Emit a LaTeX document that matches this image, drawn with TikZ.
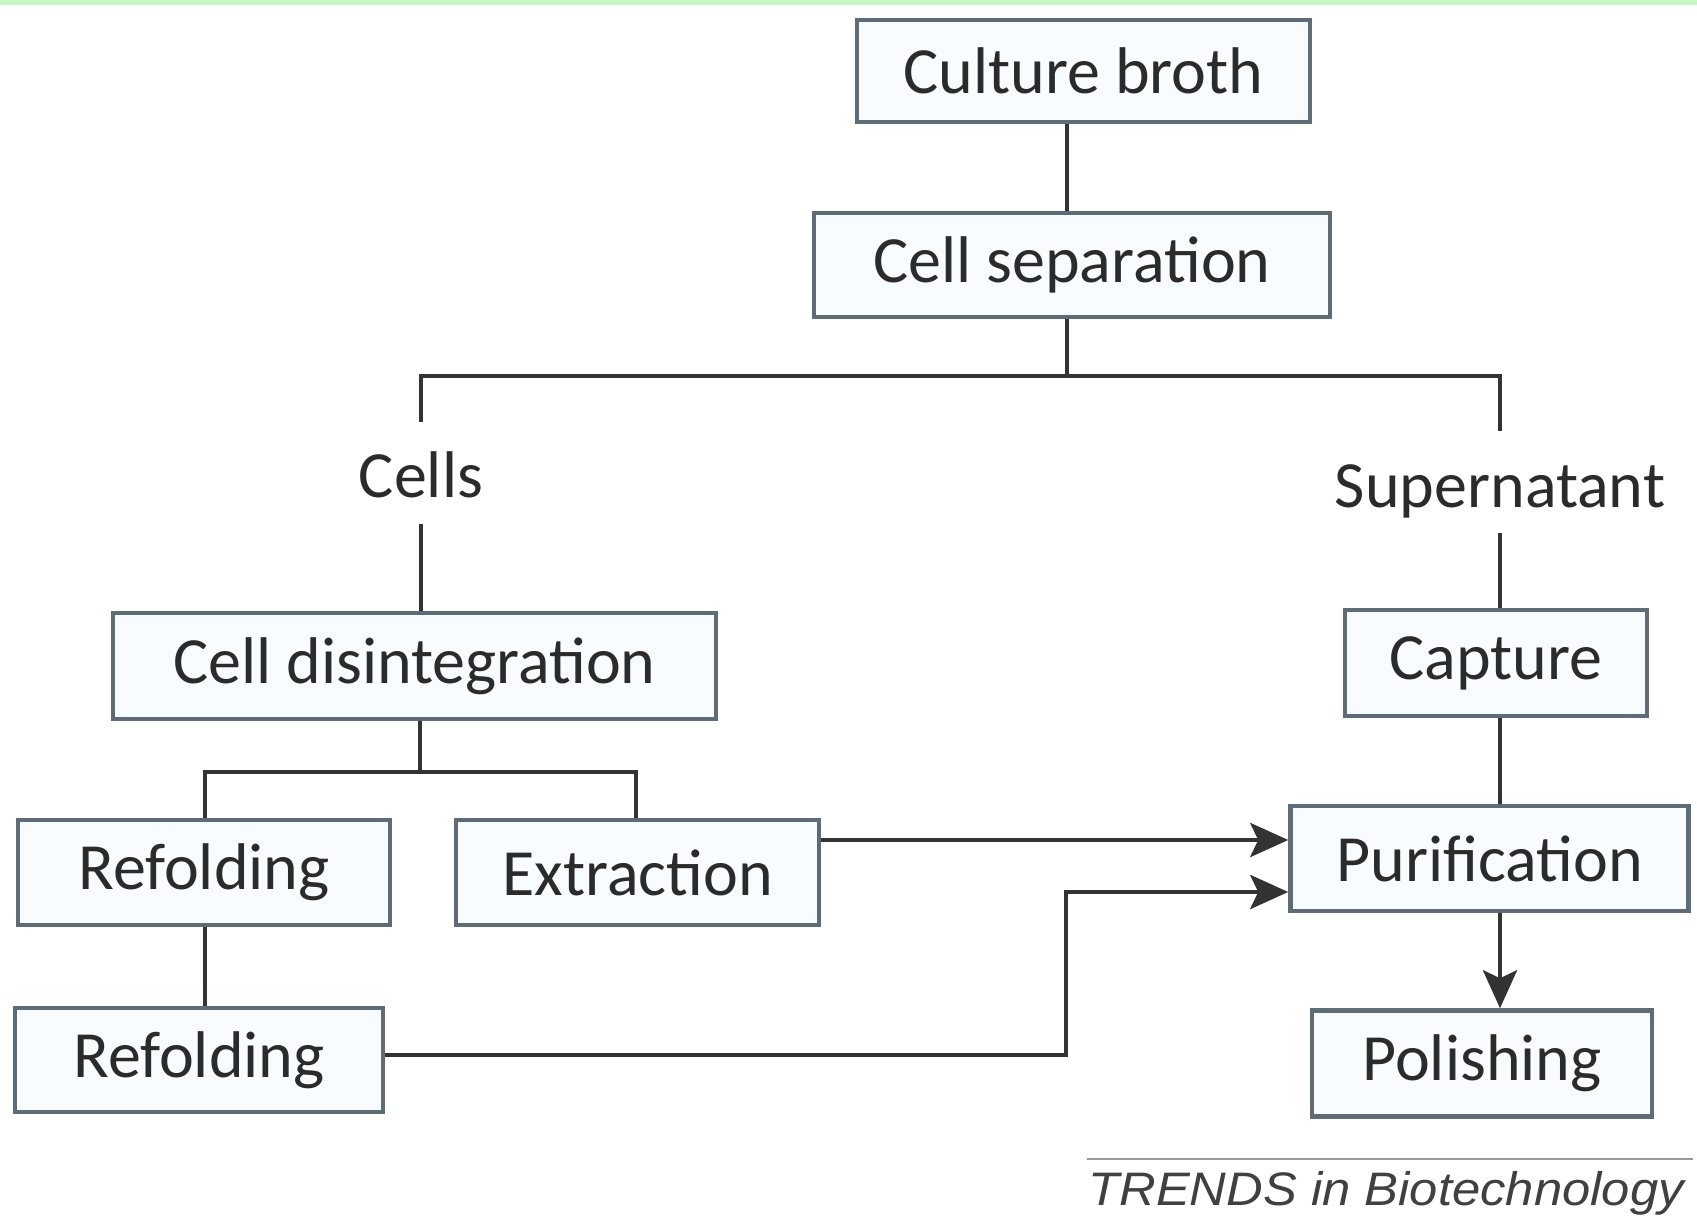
\documentclass[tikz,border=0pt]{standalone}
\usepackage{fontspec}
\setmainfont{Carlito}
\newfontfamily\trendsfont{Liberation Sans}
\usetikzlibrary{arrows.meta}
\definecolor{boxline}{HTML}{5F6B75}
\definecolor{boxfill}{HTML}{F9FCFE}
\definecolor{conn}{HTML}{333333}
\definecolor{txt}{HTML}{2B2B2B}
\definecolor{topbar}{HTML}{C8F7C8}
\tikzset{
  stepbox/.style={draw=boxline, fill=boxfill, line width=2.25pt, text=txt,
    font=\fontsize{33}{36}\selectfont, inner sep=0pt},
  lbl/.style={text=txt, font=\fontsize{33}{36}\selectfont, inner xsep=0pt,
    inner ysep=0pt, outer sep=0pt, text height=38pt, text depth=13pt},
  link/.style={draw=conn, line width=2.4pt},
  arr/.style={link, -{Stealth[length=19pt,width=17pt,inset=4pt]}}
}
\begin{document}
\begin{tikzpicture}[x=0.5pt,y=-0.5pt]
\fill[white] (0,0) rectangle (1697,1226);
\useasboundingbox (0,0) rectangle (1697,1226);
\fill[topbar] (0,0) rectangle (1697,5);

% boxes
\node[stepbox, minimum width=226.5pt, minimum height=51pt] (culture) at (1083.5,71) {Culture broth};
\node[stepbox, minimum width=258pt, minimum height=52pt] (sep) at (1072,265) {Cell separation};
\node[lbl] (cells) at (421,472.5) {Cells};
\node[lbl] (super) at (1500,482) {Supernatant};
\node[stepbox, minimum width=301.5pt, minimum height=53pt] (disint) at (414.5,666) {Cell disintegration};
\node[stepbox, minimum width=186pt, minimum height=52.5pt] (ref1) at (204,872.5) {Refolding};
\node[stepbox, minimum width=181.5pt, minimum height=52.5pt] (extr) at (637.5,872.5) {Extraction};
\node[stepbox, minimum width=184pt, minimum height=52pt] (ref2) at (199,1060) {Refolding};
\node[stepbox, minimum width=151pt, minimum height=53pt] (capt) at (1496,663) {Capture};
\node[stepbox, minimum width=199pt, minimum height=52.5pt] (purif) at (1489.5,858.5) {Purification};
\node[stepbox, minimum width=170pt, minimum height=53pt] (polish) at (1482,1063.5) {Polishing};

% junction coordinates
\coordinate (br0) at (1067,376);
\coordinate (br1) at (420,772);
\coordinate (ain1) at (1290,840);
\coordinate (ain2) at (1290,892);
\coordinate (rc) at (1066,1055);

% connectors
\draw[link] (culture.south -| br0) -- (sep.north -| br0);
\draw[link] (sep.south -| br0) -- (br0);
\draw[link] (cells.north) |- (br0) -| (super.north);
\draw[link] (cells.south) -- (cells.south |- disint.north);
\draw[link] (disint.south -| br1) -- (br1);
\draw[link] (ref1.north -| 205,0) |- (br1) -| (extr.north -| 636,0);
\draw[link] (ref1.south -| 205,0) -- (ref2.north -| 205,0);
\draw[link] (super.south) -- (super.south |- capt.north);
\draw[link] (capt.south -| super.south) -- (purif.north -| super.south);
\draw[arr] (purif.south -| super.south) -- (polish.north -| super.south);
\draw[arr] (extr.east |- ain1) -- (purif.west |- ain1);
\draw[arr] (ref2.east |- rc) -- (rc) |- (purif.west |- ain2);

% credit line
\draw[draw=black!40, line width=1pt] (1087,1159) -- (1693,1159);
\node[anchor=base west, inner sep=0pt, xscale=1.08, text=black!75,
  font=\trendsfont\itshape\fontsize{23.5}{26}\selectfont] (credit) at (1088,1205)
  {TRENDS in Biotechnology};
\end{tikzpicture}
\end{document}
